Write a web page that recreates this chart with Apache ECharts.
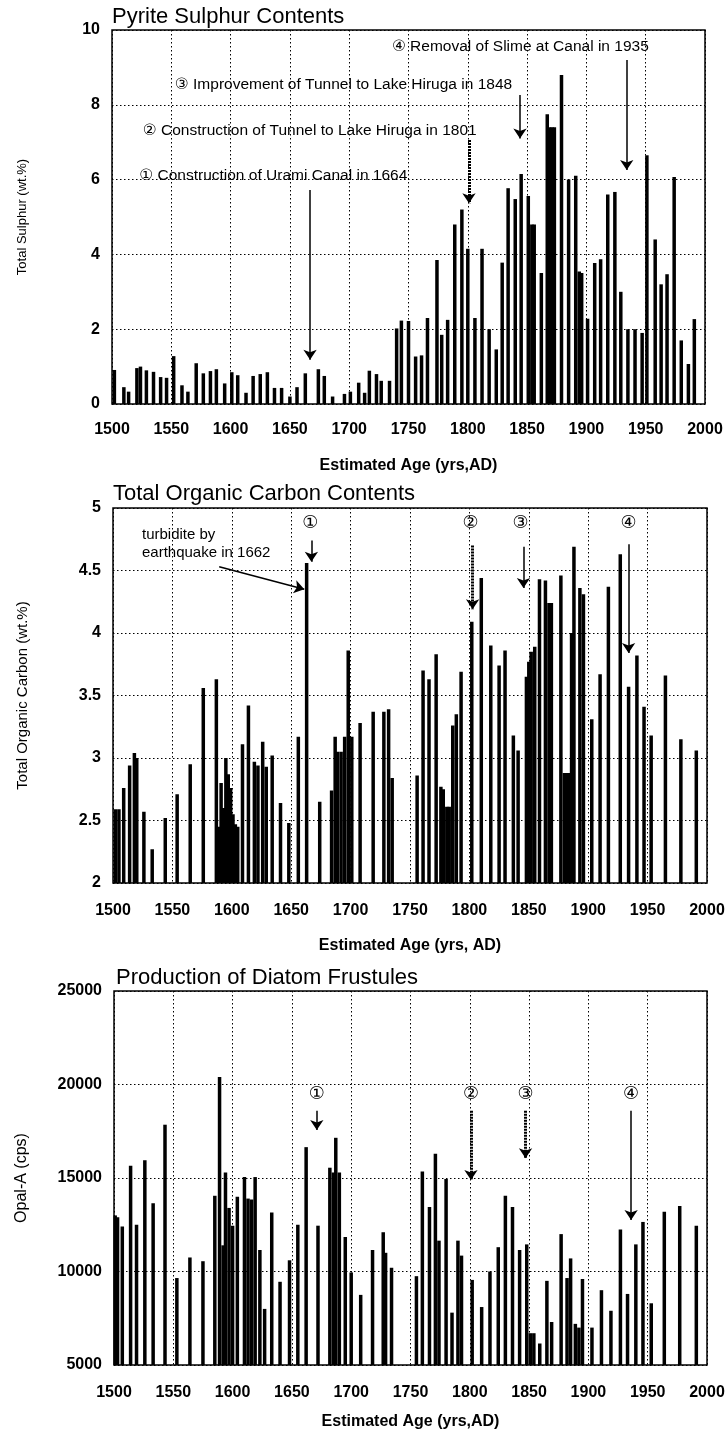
<!DOCTYPE html>
<html>
<head>
<meta charset="utf-8">
<script src="https://cdn.jsdelivr.net/npm/echarts@6/dist/echarts.min.js"></script>
<style>
html,body{margin:0;padding:0;background:#fff;}
#c{width:728px;height:1431px;}
</style>
</head>
<body>
<div id="c"></div>
<script>
// ---------- Panel 1: Pyrite Sulphur ----------
const P1_YEARS = [1502,1510,1514,1521,1524,1529,1535,1541,1546,1552,1559,1564,1571,1577,1583,1588,1595,1601,1606,1613,1619,1625,1631,1637,1643,1650,1656,1663,1674,1679,1686,1696,1701,1708,1713,1717,1723,1727,1734,1740,1744,1750,1756,1761,1766,1774,1778,1783,1789,1795,1800,1806,1812,1818,1824,1829,1834,1840,1845,1851,1854,1856,1862,1867,1869,1871,1873,1879,1885,1891,1894,1896,1901,1907,1912,1918,1924,1929,1935,1941,1947,1951,1958,1963,1968,1974,1980,1986,1991];
const P1_VALUES = [0.91,0.45,0.33,0.96,1.0,0.9,0.86,0.72,0.7,1.28,0.5,0.33,1.09,0.82,0.88,0.93,0.55,0.85,0.77,0.3,0.75,0.8,0.85,0.43,0.43,0.2,0.45,0.82,0.93,0.75,0.2,0.27,0.33,0.57,0.3,0.89,0.8,0.62,0.62,2.02,2.23,2.22,1.27,1.3,2.3,3.85,1.85,2.25,4.8,5.2,4.15,2.3,4.15,2.0,1.46,3.78,5.77,5.48,6.15,5.56,4.8,4.8,3.5,7.75,7.4,7.4,7.4,8.8,6.0,6.1,3.54,3.5,2.28,3.77,3.87,5.6,5.67,3.0,2.0,2.0,1.9,6.65,4.4,3.2,3.47,6.07,1.7,1.07,2.27];
const P1_Y_TICKS = [0, 10, 2];
const P1_NOTE_TEXT = ['\u2460 Construction of Urami Canal in 1664','\u2461 Construction of Tunnel to Lake Hiruga in 1801','\u2462 Improvement of Tunnel to Lake Hiruga in 1848','\u2463 Removal of Slime at Canal in 1935'];
const P1_NOTE_X = [1523, 1526, 1553, 1736];
const P1_NOTE_Y = [6.1, 7.3, 8.53, 9.55];
const P1_ARROW_X = [1667, 1801, 1844, 1934];
const P1_ARROW_FROM = [5.72, 7.06, 8.26, 9.2];
const P1_ARROW_TO = [1.18, 5.37, 7.1, 6.26];

// ---------- Panel 2: Total Organic Carbon ----------
const P2_YEARS = [1502,1505,1509,1514,1518,1520,1526,1533,1544,1554,1565,1576,1587,1589,1591,1593,1595,1597,1599,1601,1603,1605,1609,1614,1619,1622,1626,1629,1634,1641,1648,1656,1663,1674,1684,1687,1689,1692,1695,1698,1701,1708,1719,1728,1732,1735,1756,1761,1766,1772,1776,1778,1781,1783,1786,1789,1793,1802,1810,1818,1825,1830,1837,1841,1848,1850,1852,1855,1859,1864,1867,1869,1877,1880,1882,1884,1886,1888,1893,1896,1903,1910,1917,1927,1934,1941,1947,1953,1965,1978,1991];
const P2_VALUES = [2.59,2.59,2.76,2.94,3.04,3.0,2.57,2.27,2.52,2.71,2.95,3.56,3.63,2.45,2.8,2.6,3.0,2.87,2.76,2.55,2.47,2.45,3.11,3.42,2.97,2.94,3.13,2.93,3.02,2.64,2.48,3.17,4.56,2.65,2.74,3.17,3.05,3.05,3.17,3.86,3.17,3.28,3.37,3.37,3.39,2.84,2.86,3.7,3.63,3.83,2.77,2.75,2.61,2.61,3.26,3.35,3.69,4.09,4.44,3.9,3.74,3.86,3.18,3.06,3.65,3.77,3.85,3.89,4.43,4.42,4.24,4.24,4.46,2.88,2.88,2.88,4.0,4.69,4.36,4.31,3.31,3.67,4.37,4.63,3.57,3.82,3.41,3.18,3.66,3.15,3.06];
const P2_Y_TICKS = [2, 5, 0.5];
const P2_CIRCLE_TEXT = ['\u2460','\u2461','\u2462','\u2463'];
const P2_CIRCLE_X = [1666, 1801, 1843, 1934];
const P2_CIRCLE_Y = [4.88, 4.88, 4.88, 4.88];
const P2_ARROW_X = [1667, 1802.7, 1845.5, 1934];
const P2_ARROW_FROM = [4.74, 4.70, 4.69, 4.71];
const P2_ARROW_TO = [4.57, 4.19, 4.36, 3.84];
const P2_NOTE_TEXT = 'turbidite by\nearthquake in 1662';
const P2_NOTE_POS = [1524.4, 4.71];
const P2_NOTE_ARROW = [[1589.4, 4.53], [1661, 4.35]];

// ---------- Panel 3: Diatom Frustules ----------
const P3_YEARS = [1501,1503,1507,1514,1519,1526,1533,1543,1553,1564,1575,1585,1589,1592,1594,1597,1600,1604,1610,1613,1616,1619,1623,1627,1633,1640,1648,1655,1662,1672,1682,1685,1687,1690,1695,1700,1708,1718,1727,1729,1734,1755,1760,1766,1771,1774,1780,1785,1790,1793,1802,1810,1817,1824,1830,1836,1842,1848,1851,1854,1859,1865,1869,1877,1882,1885,1889,1892,1895,1903,1911,1919,1927,1933,1940,1946,1953,1964,1977,1991];
const P3_VALUES = [13000,12900,12400,15650,12500,15950,13650,17850,9650,10750,10550,14050,20400,11400,15300,13400,12450,14000,15050,13900,13850,15050,11150,8000,13150,9450,10600,12500,16650,12450,15550,15300,17150,15300,11850,9950,8750,11150,12100,11000,10200,9750,15350,13450,16300,11650,14950,7800,11650,10850,9550,8100,10000,11300,14050,13450,11150,11450,6700,6700,6150,9500,7300,12000,9650,10700,7200,7000,9600,7000,9000,7900,12250,8800,11450,12650,8300,13200,13500,12450];
const P3_Y_TICKS = [5000, 25000, 5000];
const P3_CIRCLE_TEXT = ['\u2460','\u2461','\u2462','\u2463'];
const P3_CIRCLE_X = [1671, 1801, 1847, 1936];
const P3_CIRCLE_Y = [19500, 19500, 19500, 19500];
const P3_ARROW_X = [1671, 1801, 1847, 1936];
const P3_ARROW_FROM = [18600, 18600, 18600, 18600];
const P3_ARROW_TO = [17568, 14894, 16054, 12755];

const X_TICKS = [1500, 2000, 50];
const TITLES = ['Pyrite Sulphur Contents', 'Total Organic Carbon Contents', 'Production of Diatom Frustules'];
const Y_NAMES = ['Total Sulphur (wt.%)', 'Total Organic Carbon (wt.%)', 'Opal-A (cps)'];
const X_NAMES = ['Estimated Age (yrs,AD)', 'Estimated Age (yrs, AD)', 'Estimated Age (yrs,AD)'];

// ---------- build ----------
const FONT = '"Liberation Sans", Arial, "DejaVu Sans", sans-serif';
const pair = (xs, ys) => xs.map((x, i) => [x, ys[i]]);
const plain = v => String(v);

const grids = [
  {left: 112, top: 30, width: 593, height: 374},
  {left: 113, top: 508, width: 594, height: 375},
  {left: 114, top: 991, width: 593, height: 374}
].map(g => Object.assign({show: true, borderColor: '#000', borderWidth: 1.5, backgroundColor: 'transparent', containLabel: false, outerBoundsMode: 'none'}, g));

const labelMargins = [18, 20, 20];
const nameGaps = [54, 55, 49];
const xAxes = [0,1,2].map(i => ({
  gridIndex: i, type: 'value', min: X_TICKS[0], max: X_TICKS[1], interval: X_TICKS[2],
  axisLine: {show: false}, axisTick: {show: false},
  axisLabel: {color: '#000', fontSize: 16, fontWeight: 'bold', fontFamily: FONT, margin: labelMargins[i], formatter: plain},
  splitLine: {show: true, lineStyle: {color: '#000', type: [1.5, 2.5], width: 1}},
  name: X_NAMES[i], nameLocation: 'middle', nameGap: nameGaps[i],
  nameTextStyle: {color: '#000', fontSize: 16, fontWeight: 'bold', fontFamily: FONT}
}));

const yTicks = [P1_Y_TICKS, P2_Y_TICKS, P3_Y_TICKS];
const yNameSize = [13, 15, 16];
const yAxes = [0,1,2].map(i => ({
  gridIndex: i, type: 'value', min: yTicks[i][0], max: yTicks[i][1], interval: yTicks[i][2],
  axisLine: {show: false}, axisTick: {show: false},
  axisLabel: {color: '#000', fontSize: 16, fontWeight: 'bold', fontFamily: FONT, margin: 12, formatter: plain},
  splitLine: {show: true, lineStyle: {color: '#000', type: [1.5, 2.5], width: 1}},
  name: Y_NAMES[i], nameLocation: 'middle', nameRotate: 90, nameGap: 112 - 22 - yNameSize[i] / 2 + (i === 2 ? 2 : 0),
  nameTextStyle: {color: '#000', fontSize: yNameSize[i], fontFamily: FONT}
}));

function arrows(xs, from, to, hatched) {
  return xs.map((x, i) => {
    const h = hatched.indexOf(i) >= 0;
    return [{coord: [x, from[i]], lineStyle: {color: '#000', width: h ? 3 : 1.5, type: h ? [2, 1] : 'solid'}},
            {coord: [x, to[i]]}];
  });
}
function markLines(lines) {
  return {silent: true, animation: false, symbol: ['none', 'arrow'], symbolSize: 10,
          label: {show: false}, lineStyle: {color: '#000', width: 1.5, type: 'solid', opacity: 1}, data: lines};
}
function barSeries(i, xs, ys, lines) {
  return {type: 'bar', xAxisIndex: i, yAxisIndex: i, data: pair(xs, ys), barWidth: 3.5,
          itemStyle: {color: '#000'}, clip: true, silent: true, markLine: markLines(lines)};
}
function textSeries(i, texts, xs, ys, opts) {
  return {type: 'scatter', xAxisIndex: i, yAxisIndex: i, symbolSize: 0, silent: true, z: 10,
          itemStyle: {opacity: 1, color: '#000'},
          data: texts.map((t, k) => ({name: t, value: [xs[k], ys[k]]})),
          label: Object.assign({show: true, formatter: '{b}', color: '#000', opacity: 1, fontFamily: FONT}, opts)};
}

const p2Lines = arrows(P2_ARROW_X, P2_ARROW_FROM, P2_ARROW_TO, [1]);
p2Lines.push([{coord: P2_NOTE_ARROW[0], lineStyle: {color: '#000', width: 1.5}}, {coord: P2_NOTE_ARROW[1]}]);

const series = [
  barSeries(0, P1_YEARS, P1_VALUES, arrows(P1_ARROW_X, P1_ARROW_FROM, P1_ARROW_TO, [1])),
  barSeries(1, P2_YEARS, P2_VALUES, p2Lines),
  barSeries(2, P3_YEARS, P3_VALUES, arrows(P3_ARROW_X, P3_ARROW_FROM, P3_ARROW_TO, [1, 2])),
  textSeries(0, P1_NOTE_TEXT, P1_NOTE_X, P1_NOTE_Y, {position: 'right', distance: 0, fontSize: 15.5}),
  textSeries(1, [P2_NOTE_TEXT], [P2_NOTE_POS[0]], [P2_NOTE_POS[1]], {position: 'right', distance: 0, fontSize: 15, lineHeight: 18}),
  textSeries(1, P2_CIRCLE_TEXT, P2_CIRCLE_X, P2_CIRCLE_Y, {position: 'inside', fontSize: 18}),
  textSeries(2, P3_CIRCLE_TEXT, P3_CIRCLE_X, P3_CIRCLE_Y, {position: 'inside', fontSize: 18})
];

const titleTops = [6, 483, 967];
const titleLefts = [112, 113, 116];
const titles = TITLES.map((t, i) => ({text: t, left: titleLefts[i], top: titleTops[i], padding: 0,
  textStyle: {color: '#000', fontSize: 22, fontWeight: 'normal', fontFamily: FONT}}));

const chart = echarts.init(document.getElementById('c'), null, {renderer: 'canvas'});
chart.setOption({
  animation: false,
  backgroundColor: '#fff',
  title: titles,
  grid: grids,
  xAxis: xAxes,
  yAxis: yAxes,
  series: series
});
</script>
</body>
</html>
